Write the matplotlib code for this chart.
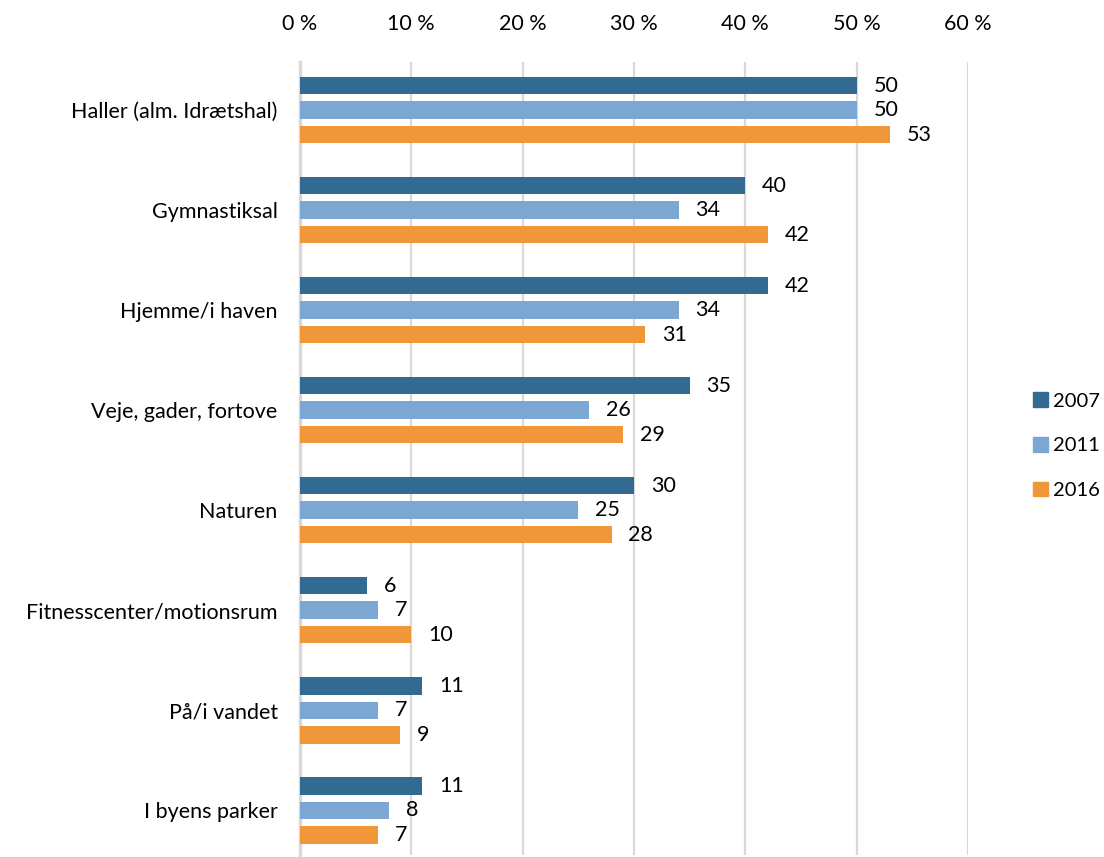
import numpy as np
import matplotlib.pyplot as plt
from matplotlib.patches import Patch

plt.rcParams['font.family'] = ['Lato', 'DejaVu Sans']

categories = ["Haller (alm. Idrætshal)", "Gymnastiksal", "Hjemme/i haven",
              "Veje, gader, fortove", "Naturen", "Fitnesscenter/motionsrum",
              "På/i vandet", "I byens parker"]
years = ["2007", "2011", "2016"]
v2007 = [50, 40, 42, 35, 30, 6, 11, 11]
v2011 = [50, 34, 34, 26, 25, 7, 7, 8]
v2016 = [53, 42, 31, 29, 28, 10, 9, 7]
colors = ["#336a92", "#7ba7d2", "#f0973a"]

fig = plt.figure(figsize=(11.04, 8.57), dpi=100)
ax = fig.add_axes([0.2717, 0.002, 0.6051, 0.9255])

y = np.arange(len(categories))
h = 0.175
offs = [-0.245, 0, 0.245]
for vals, off, c in zip([v2007, v2011, v2016], offs, colors):
    ax.barh(y + off, vals, height=h, color=c, zorder=3)
    for yi, v in zip(y, vals):
        ax.text(v + 1.5, yi + off, str(v), va="center", ha="left", fontsize=15.5)

ax.set_xlim(0, 60)
ax.set_ylim(7.45, -0.48)
ax.set_xticks(np.arange(0, 61, 10))
ax.set_xticklabels([f"{t} %" for t in range(0, 61, 10)], fontsize=15.5)
ax.xaxis.tick_top()
ax.set_yticks(y)
ax.set_yticklabels(categories, fontsize=15.5)
ax.tick_params(length=0, pad=16, axis="y")
ax.tick_params(length=0, pad=20, axis="x")
ax.grid(axis="x", color="#d9d9d9", linewidth=1.6, zorder=0)
for s in ["top", "right", "bottom"]:
    ax.spines[s].set_visible(False)
ax.spines["left"].set_color("#d9d9d9")
ax.spines["left"].set_linewidth(2.5)

handles = [Patch(color=c) for c in colors]
fig.legend(handles, years, loc="center left", bbox_to_anchor=(0.936, 0.48),
           frameon=False, fontsize=14.5, handlelength=0.75, handleheight=0.75,
           labelspacing=1.35, handletextpad=0.25, borderpad=0, borderaxespad=0)

fig.savefig("out.png", dpi=100)
